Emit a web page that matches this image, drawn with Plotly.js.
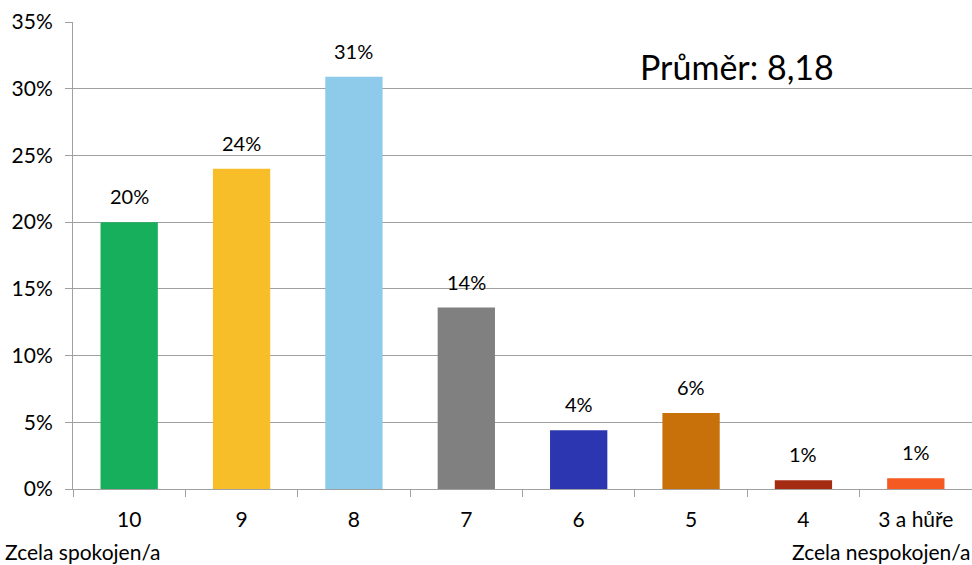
<!DOCTYPE html>
<html>
<head>
<meta charset="utf-8">
<script src="https://cdn.plot.ly/plotly-3.0.1.min.js"></script>
<style>html,body{margin:0;padding:0;background:#fff;}#chart{width:972px;height:565px;}</style>
</head>
<body>
<div id="chart"></div>
<script>
const categories = ["10", "9", "8", "7", "6", "5", "4", "3 a hůře"];
const values = [20.0, 24.0, 30.9, 13.6, 4.4, 5.7, 0.65, 0.8];
const labels = ["20%", "24%", "31%", "14%", "4%", "6%", "1%", "1%"];
const colors = ["#17AE5C", "#F8BE2A", "#8ECBEA", "#808080", "#2B36B0", "#C8700A", "#A52C12", "#F55A22"];
const yTicks = [0, 5, 10, 15, 20, 25, 30, 35];
const yTickLabels = ["0%", "5%", "10%", "15%", "20%", "25%", "30%", "35%"];
const meanText = "Průměr: 8,18";
const leftNote = "Zcela spokojen/a";
const rightNote = "Zcela nespokojen/a";

const FONT = "Lato, 'Open Sans', sans-serif";
const FS = 21;

const trace = {
  type: "bar",
  x: categories,
  y: values,
  marker: {color: colors, line: {width: 0}},
  width: 0.51,
  hoverinfo: "skip"
};

const annotations = categories.map((c, i) => ({
  x: i, y: values[i], xref: "x", yref: "y",
  text: labels[i], showarrow: false, yanchor: "bottom", yshift: 12,
  font: {family: FONT, size: 20, color: "#000"}
}));
annotations.push({
  xref: "paper", yref: "paper", x: 0.739, y: 0.905, xanchor: "center", yanchor: "middle",
  text: meanText, showarrow: false, font: {family: FONT, size: 34, color: "#000"}
});
annotations.push({
  xref: "paper", yref: "paper", x: -0.078, y: -0.133, xanchor: "left", yanchor: "middle",
  text: leftNote, showarrow: false, font: {family: FONT, size: FS, color: "#000"}
});
annotations.push({
  xref: "paper", yref: "paper", x: 1.0, y: -0.133, xanchor: "right", yanchor: "middle",
  text: rightNote, showarrow: false, font: {family: FONT, size: FS, color: "#000"}
});

const layout = {
  width: 972, height: 565,
  margin: {l: 73, r: 0, t: 22, b: 76, pad: 0},
  paper_bgcolor: "#fff", plot_bgcolor: "#fff",
  showlegend: false,
  font: {family: FONT, size: FS, color: "#000"},
  xaxis: {
    type: "category",
    range: [-0.5, 7.5],
    tickson: "boundaries",
    ticks: "outside", ticklen: 7, tickcolor: "#A0A0A0", tickwidth: 1,
    ticklabelstandoff: 12,
    showline: true, linecolor: "#A0A0A0", linewidth: 1,
    showgrid: false,
    tickfont: {family: FONT, size: FS, color: "#000"},
    fixedrange: true
  },
  yaxis: {
    range: [0, 35],
    tickvals: yTicks, ticktext: yTickLabels,
    ticks: "outside", ticklen: 7, tickcolor: "#A0A0A0",
    ticklabelstandoff: 8,
    showline: true, linecolor: "#A0A0A0", linewidth: 1,
    showgrid: true, gridcolor: "#A0A0A0", gridwidth: 1,
    zeroline: false,
    tickfont: {family: FONT, size: FS, color: "#000"},
    fixedrange: true
  },
  annotations: annotations
};

Plotly.newPlot("chart", [trace], layout, {displayModeBar: false, staticPlot: true});
</script>
</body>
</html>
